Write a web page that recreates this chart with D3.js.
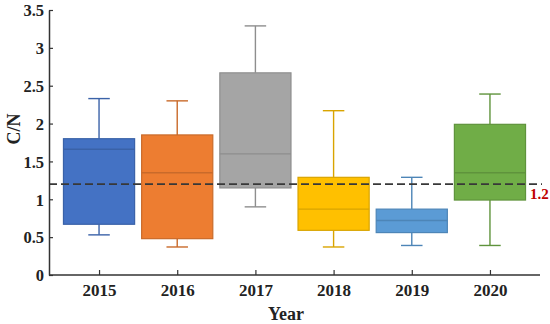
<!DOCTYPE html>
<html><head><meta charset="utf-8">
<script src="https://cdn.jsdelivr.net/npm/d3@7"></script>
<style>body{margin:0;background:#fff}svg{display:block}</style>
</head><body>
<svg id="c" width="550" height="324"></svg>
<script>
const years = ["2015","2016","2017","2018","2019","2020"];
const whiskerLow  = [0.53, 0.37, 0.90, 0.37, 0.39, 0.39];
const q1          = [0.67, 0.48, 1.15, 0.59, 0.56, 0.99];
const median      = [1.66, 1.35, 1.60, 0.87, 0.72, 1.35];
const q3          = [1.80, 1.85, 2.67, 1.29, 0.87, 1.99];
const whiskerHigh = [2.33, 2.30, 3.29, 2.17, 1.29, 2.39];
const fills   = ["#4472C4","#ED7D31","#A5A5A5","#FFC000","#5B9BD5","#70AD47"];
const strokes = ["#3A62A8","#C96A2A","#8E8E8E","#D9A400","#4D85B7","#5F933C"];
const yTicks = [0,0.5,1,1.5,2,2.5,3,3.5];
const yTickLabels = ["0","0.5","1","1.5","2","2.5","3","3.5"];
const refValue = 1.2;
const refLabel = "1.2";

const svg = d3.select("#c");
const font = "'Liberation Serif','Times New Roman',serif";
const x0 = 49, x1 = 540, yTop = 10, yBot = 275;
const y = d3.scaleLinear().domain([0,3.5]).range([yBot,yTop]);
const x = d3.scalePoint().domain(years).range([x0, x1]).padding(0.64);
const step = x.step();
const bw = step*0.91;
const cap = 21.5;

const data = years.map((yr,i)=>({yr,lo:whiskerLow[i],q1:q1[i],med:median[i],q3:q3[i],hi:whiskerHigh[i],fill:fills[i],stroke:strokes[i]}));

const g = svg.append("g");
data.forEach(d=>{
  const cx = x(d.yr);
  const gg = g.append("g");
  gg.append("line").attr("x1",cx).attr("x2",cx).attr("y1",y(d.q3)).attr("y2",y(d.hi)).attr("stroke",d.stroke).attr("stroke-width",1.4);
  gg.append("line").attr("x1",cx).attr("x2",cx).attr("y1",y(d.q1)).attr("y2",y(d.lo)).attr("stroke",d.stroke).attr("stroke-width",1.4);
  gg.append("line").attr("x1",cx-cap/2).attr("x2",cx+cap/2).attr("y1",y(d.hi)).attr("y2",y(d.hi)).attr("stroke",d.stroke).attr("stroke-width",1.4);
  gg.append("line").attr("x1",cx-cap/2).attr("x2",cx+cap/2).attr("y1",y(d.lo)).attr("y2",y(d.lo)).attr("stroke",d.stroke).attr("stroke-width",1.4);
  gg.append("rect").attr("x",cx-bw/2).attr("width",bw).attr("y",y(d.q3)).attr("height",y(d.q1)-y(d.q3))
    .attr("fill",d.fill).attr("stroke",d.stroke).attr("stroke-width",1.2);
  gg.append("line").attr("x1",cx-bw/2).attr("x2",cx+bw/2).attr("y1",y(d.med)).attr("y2",y(d.med)).attr("stroke",d.stroke).attr("stroke-width",1.4);
});

// reference line
svg.append("line").attr("x1",x0).attr("x2",542).attr("y1",y(refValue)).attr("y2",y(refValue))
  .attr("stroke","#383838").attr("stroke-width",1.8).attr("stroke-dasharray","8,4");
svg.append("text").attr("x",530).attr("y",y(refValue)+15).text(refLabel)
  .attr("font-family",font).attr("font-weight","bold").attr("font-size",15).attr("fill","#C00000");

// axes
const axisColor = "#333";
const yAxis = d3.axisRight(y).tickValues(yTicks).tickFormat((d,i)=>yTickLabels[i]).tickSize(4).tickSizeOuter(0);
const ya = svg.append("g").attr("transform",`translate(${x0},0)`).call(yAxis);
ya.select(".domain").attr("stroke",axisColor).attr("stroke-width",1.5);
ya.selectAll(".tick line").attr("stroke",axisColor).attr("stroke-width",1.2);
ya.selectAll(".tick text").attr("x",-5).attr("text-anchor","end").attr("font-family",font).attr("font-weight","bold").attr("font-size",16.5).attr("fill","#222").attr("dy","0.35em");

const xAxis = d3.axisTop(x).tickSize(5).tickSizeOuter(0);
const xa = svg.append("g").attr("transform",`translate(0,${yBot})`).call(xAxis);
xa.select(".domain").attr("d",`M${x0},0H${x1}`).attr("stroke",axisColor).attr("stroke-width",1.5);
xa.selectAll(".tick line").attr("stroke",axisColor).attr("stroke-width",1.2);
xa.selectAll(".tick text").attr("y",21).attr("dy",0).attr("text-anchor","middle").attr("font-family",font).attr("font-weight","bold").attr("font-size",17).attr("fill","#222");

svg.append("text").attr("x",286).attr("y",320).attr("text-anchor","middle").text("Year")
  .attr("font-family",font).attr("font-weight","bold").attr("font-size",18).attr("fill","#222");
svg.append("text").attr("transform","translate(20,129) rotate(-90)").attr("text-anchor","middle").text("C/N")
  .attr("font-family",font).attr("font-weight","bold").attr("font-size",18).attr("fill","#222");
</script>
</body></html>
